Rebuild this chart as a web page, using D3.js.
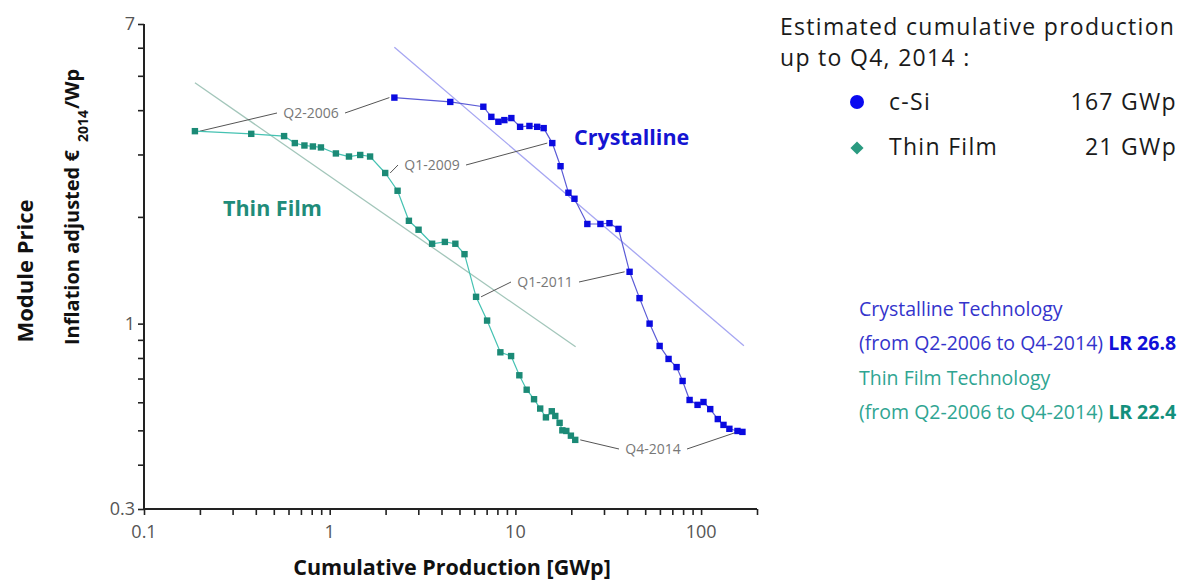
<!DOCTYPE html>
<html>
<head>
<meta charset="utf-8">
<script src="https://cdn.jsdelivr.net/npm/d3@7"></script>
<style>
  html, body { margin: 0; padding: 0; background: #fff; }
  svg { display: block; font-family: "Open Sans", "Noto Sans", sans-serif; }
</style>
</head>
<body>
<svg id="chart" width="1204" height="583"></svg>
<script>
// Quarterly module prices, Q2-2006 .. Q4-2014 (35 quarters)
const crystallineProduction = [2.23, 4.46, 6.72, 7.42, 8.10, 8.72, 9.51, 10.6, 11.9, 13.1, 14.2, 15.8, 17.5, 19.3, 20.8, 24.4, 28.7, 32.1, 35.9, 41.2, 46.6, 52.8, 59.8, 66.8, 73.8, 79.5, 86.7, 95.7, 103, 112, 123, 132, 142, 157, 167];
const crystallinePrice = [4.34, 4.22, 4.09, 3.83, 3.71, 3.75, 3.80, 3.59, 3.61, 3.59, 3.56, 3.23, 2.78, 2.34, 2.25, 1.91, 1.91, 1.92, 1.85, 1.40, 1.18, 1.00, 0.865, 0.795, 0.754, 0.689, 0.609, 0.590, 0.601, 0.574, 0.538, 0.518, 0.505, 0.498, 0.495];
const thinFilmProduction = [0.188, 0.378, 0.568, 0.649, 0.731, 0.812, 0.897, 1.08, 1.27, 1.46, 1.65, 1.99, 2.32, 2.67, 3.01, 3.56, 4.17, 4.75, 5.32, 6.14, 7.04, 8.30, 9.48, 10.5, 11.5, 12.6, 13.6, 14.6, 15.7, 16.4, 17.3, 17.9, 18.8, 19.9, 21];
const thinFilmPrice = [3.49, 3.43, 3.38, 3.23, 3.18, 3.16, 3.14, 3.02, 2.96, 2.99, 2.96, 2.66, 2.37, 1.95, 1.84, 1.68, 1.70, 1.68, 1.57, 1.19, 1.02, 0.83, 0.81, 0.715, 0.651, 0.612, 0.576, 0.544, 0.566, 0.549, 0.525, 0.500, 0.498, 0.483, 0.470];
const quarters = d3.range(35).map(i => {
  const q = (i + 1) % 4 + 1, y = 2006 + Math.floor((i + 1) / 4);
  return "Q" + q + "-" + y;
});

// Experience-curve fits: [start production, start price, end production, end price]
const crystallineFit = [2.23, 6.02, 170, 0.866];
const thinFilmFit = [0.188, 4.78, 21.1, 0.861];

// Quarters that are called out on both curves
const calloutQuarters = ["Q2-2006", "Q1-2009", "Q1-2011", "Q4-2014"];

const xTickLabels = [0.1, 1, 10, 100];
const yTickLabels = [0.3, 1, 7];
const xMinorTicks = [0.1,0.2,0.3,0.4,0.5,0.6,0.7,0.8,0.9,1,2,3,4,5,6,7,8,9,10,20,30,40,50,60,70,80,90,100,200];
const yMinorTicks = [0.3,0.4,0.5,0.6,0.7,0.8,0.9,1,2,3,4,5,6,7];

const legendTotals = [
  { name: "c-Si", total: "167 GWp", shape: "circle" },
  { name: "Thin Film", total: "21 GWp", shape: "diamond" }
];

const BLUE = "#0a0ae0", BLUE_LINE = "#5b5bd6", BLUE_FIT = "#a6a6f2";
const TEAL = "#1b8a76", TEAL_LINE = "#45c2b2", TEAL_FIT = "#a3c6ba";
const GREY_TEXT = "#777", LEADER = "#555";

const svg = d3.select("#chart");
const x = d3.scaleLog().domain([0.1, 200]).range([144, 757]);
const y = d3.scaleLog().domain([0.3, 7]).range([509, 24]);

// Axes
const xAxis = d3.axisBottom(x).tickValues(xMinorTicks).tickSize(6).tickFormat("");
svg.append("g").attr("transform", "translate(0,509)").call(xAxis)
  .call(g => g.select(".domain").attr("stroke", "#222").attr("stroke-width", 2).attr("d", "M144,0H757"))
  .call(g => g.selectAll(".tick line").attr("stroke", "#222").attr("stroke-width", 1.6));
svg.append("g").attr("transform", "translate(0,509)")
  .selectAll("text").data(xTickLabels).join("text")
  .attr("x", d => x(d)).attr("y", 29).attr("text-anchor", "middle")
  .attr("font-size", 18).attr("fill", "#555").text(d => d);

const yAxis = d3.axisLeft(y).tickValues(yMinorTicks).tickSize(6).tickFormat("");
svg.append("g").attr("transform", "translate(144,0)").call(yAxis)
  .call(g => g.select(".domain").attr("stroke", "#222").attr("stroke-width", 2).attr("d", "M0,24V509"))
  .call(g => g.selectAll(".tick line").attr("stroke", "#222").attr("stroke-width", 1.6));
svg.append("g")
  .selectAll("text").data(yTickLabels).join("text")
  .attr("x", 135).attr("y", d => y(d) + 6).attr("text-anchor", "end")
  .attr("font-size", 18).attr("fill", "#555").text(d => d);

// Axis titles
svg.append("text").attr("x", 452).attr("y", 575).attr("text-anchor", "middle")
  .attr("font-size", 21.5).attr("font-weight", "bold").attr("fill", "#111")
  .text("Cumulative Production [GWp]");
svg.append("text").attr("transform", "translate(33,271) rotate(-90)").attr("text-anchor", "middle")
  .attr("font-size", 22).attr("font-weight", "bold").attr("fill", "#111").text("Module Price");
const yt = svg.append("text").attr("transform", "translate(79,345) rotate(-90)").attr("text-anchor", "start")
  .attr("font-size", 20).attr("font-weight", "bold").attr("fill", "#111");
yt.append("tspan").text("Inflation adjusted  €");
yt.append("tspan").attr("font-size", 14).attr("dy", 9).attr("dx", 8).text("2014");
yt.append("tspan").attr("dy", -9).attr("dx", 1).text("/Wp");

// Fit lines
const fitLine = d3.line().x(d => x(d[0])).y(d => y(d[1]));
svg.append("path").attr("d", fitLine([[crystallineFit[0], crystallineFit[1]], [crystallineFit[2], crystallineFit[3]]]))
  .attr("stroke", BLUE_FIT).attr("stroke-width", 1.3).attr("fill", "none");
svg.append("path").attr("d", fitLine([[thinFilmFit[0], thinFilmFit[1]], [thinFilmFit[2], thinFilmFit[3]]]))
  .attr("stroke", TEAL_FIT).attr("stroke-width", 1.3).attr("fill", "none");

// Callout leader lines and labels
const series = {
  c: crystallineProduction.map((p, i) => [p, crystallinePrice[i]]),
  t: thinFilmProduction.map((p, i) => [p, thinFilmPrice[i]])
};
const calloutPos = {
  "Q2-2006": { x: 311, y: 113, w: 34 },
  "Q1-2009": { x: 432, y: 165, w: 34 },
  "Q1-2011": { x: 545, y: 282, w: 34 },
  "Q4-2014": { x: 653, y: 449, w: 34 }
};
calloutQuarters.forEach(q => {
  const i = quarters.indexOf(q), pos = calloutPos[q];
  const pt = series.t[i], pc = series.c[i];
  const tx = x(pt[0]) + 5, ty = y(pt[1]);
  const cx = x(pc[0]) - 5, cy = y(pc[1]);
  svg.append("line").attr("x1", tx).attr("y1", ty).attr("x2", pos.x - pos.w).attr("y2", pos.y)
    .attr("stroke", LEADER).attr("stroke-width", 1);
  svg.append("line").attr("x1", pos.x + pos.w).attr("y1", pos.y).attr("x2", cx).attr("y2", cy)
    .attr("stroke", LEADER).attr("stroke-width", 1);
  svg.append("text").attr("x", pos.x).attr("y", pos.y + 5).attr("text-anchor", "middle")
    .attr("font-size", 14).attr("fill", GREY_TEXT).text(q);
});

// Data series
const seriesLine = d3.line().x(d => x(d[0])).y(d => y(d[1]));
function drawSeries(data, lineColor, markerColor) {
  svg.append("path").attr("d", seriesLine(data)).attr("fill", "none")
    .attr("stroke", lineColor).attr("stroke-width", 1.2);
  svg.append("g").selectAll("rect").data(data).join("rect")
    .attr("x", d => x(d[0]) - 3.2).attr("y", d => y(d[1]) - 3.2)
    .attr("width", 6.4).attr("height", 6.4).attr("fill", markerColor);
}
drawSeries(series.t, TEAL_LINE, TEAL);
drawSeries(series.c, BLUE_LINE, BLUE);

// In-plot series names
svg.append("text").attr("x", 574).attr("y", 145).attr("font-size", 21.5).attr("font-weight", "bold")
  .attr("fill", "#1414d2").text("Crystalline");
svg.append("text").attr("x", 223).attr("y", 216).attr("font-size", 21.5).attr("font-weight", "bold")
  .attr("fill", "#1f8c7a").text("Thin Film");

// Totals legend
svg.append("text").attr("x", 780).attr("y", 35).attr("font-size", 23).attr("letter-spacing", 1.3)
  .attr("fill", "#1a1a1a").text("Estimated cumulative production");
svg.append("text").attr("x", 780).attr("y", 66).attr("font-size", 23).attr("letter-spacing", 1.3)
  .attr("fill", "#1a1a1a").text("up to Q4, 2014 :");
legendTotals.forEach((d, i) => {
  const cy = 102 + i * 45;
  if (d.shape === "circle") {
    svg.append("circle").attr("cx", 857).attr("cy", cy).attr("r", 7).attr("fill", "#0a0af0");
  } else {
    svg.append("path").attr("d", d3.symbol(d3.symbolDiamond2, 110)())
      .attr("transform", `translate(857,${cy + 1})`).attr("fill", "#2a9a80");
  }
  svg.append("text").attr("x", 889).attr("y", cy + 8).attr("font-size", 23).attr("letter-spacing", 1.3)
    .attr("fill", "#1a1a1a").text(d.name);
  svg.append("text").attr("x", 1177).attr("y", cy + 8).attr("text-anchor", "end").attr("font-size", 23)
    .attr("letter-spacing", 1.3).attr("fill", "#1a1a1a").text(d.total);
});

// Learning-rate notes
const notes = [
  { text: "Crystalline Technology", lr: null, color: "#3434cc", bold: "#1010d8", y: 316 },
  { text: "(from Q2-2006 to Q4-2014) ", lr: "LR 26.8", color: "#3434cc", bold: "#1010d8", y: 350 },
  { text: "Thin Film Technology", lr: null, color: "#2fa592", bold: "#13907c", y: 385 },
  { text: "(from Q2-2006 to Q4-2014) ", lr: "LR 22.4", color: "#2fa592", bold: "#13907c", y: 419 }
];
notes.forEach(n => {
  const t = svg.append("text").attr("x", 859).attr("y", n.y).attr("font-size", 19.5).attr("fill", n.color);
  t.append("tspan").text(n.text);
  if (n.lr) t.append("tspan").attr("font-weight", "bold").attr("fill", n.bold).text(n.lr);
});
</script>
</body>
</html>
